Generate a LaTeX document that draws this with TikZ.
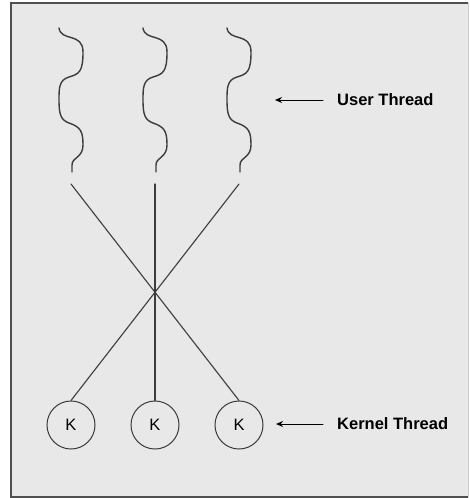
\documentclass[tikz,border=0pt]{standalone}
\usepackage{fontspec}
\setmainfont{Liberation Sans}
\usetikzlibrary{arrows.meta}
\definecolor{panelgray}{RGB}{232,232,232}
\definecolor{framegray}{RGB}{80,80,80}
\definecolor{linegray}{RGB}{60,60,60}

\begin{document}
\begin{tikzpicture}[
    x=1pt,
    y=-1pt,
    line cap=round,
    every node/.style={font=\fontsize{16.5}{18}\selectfont},
    kthread/.style={draw=linegray, line width=1pt, circle, minimum size=48pt, inner sep=0pt},
    threadlabel/.style={font=\fontsize{16.5}{18}\selectfont\bfseries, anchor=west, inner sep=0pt, inner xsep=14pt},
    pointer/.style={-{Stealth[length=7pt,width=6pt]}, line width=1pt},
    wave/.style={draw=linegray, line width=1.4pt},
    link/.style={draw=linegray, line width=1.1pt}
]
\useasboundingbox (0,0) rectangle (469,498);

% Panel
\fill[panelgray] (11,3) rectangle (468,497);
\draw[gray!40, line width=1pt] (468,3) -- (468,497);
\draw[framegray, line width=2pt, line cap=butt]
      (468,3) -- (11,3) -- (11,497) -- (468,497);

% User threads (wavy) and kernel threads
\foreach \cx/\n in {71/1,155/2,239/3}{
    \draw[wave, xshift=\cx]
        (-12,28) .. controls (-10,42) and (12,32) .. (12,52)
                 .. controls (12,72) and (8,74) .. (-2,77)
                 .. controls (-12,80) and (-12,88) .. (-12,100)
                 .. controls (-12,115) and (-10,120) .. (-2,123)
                 .. controls (10,127) and (12,132) .. (12,145)
                 .. controls (12,158) and (1,157) .. (1,165)
                 -- (1,172);
    \coordinate (top\n) at (\cx,184);
    \node[kthread] (k\n) at (\cx,425) {K};
}

% Mapping
\draw[link] (top1) -- (k3.north);
\draw[link] (top2) -- (k2.north);
\draw[link] (top3) -- (k1.north);

% Labels
\node[threadlabel] (ulabel) at (323,100) {User Thread};
\coordinate (utip) at (275,100);
\draw[pointer] (ulabel.west) -- (utip);

\node[threadlabel] (klabel) at (323,424) {Kernel Thread};
\coordinate (ktip) at (276,424);
\draw[pointer] (klabel.west) -- (ktip);

\end{tikzpicture}
\end{document}
